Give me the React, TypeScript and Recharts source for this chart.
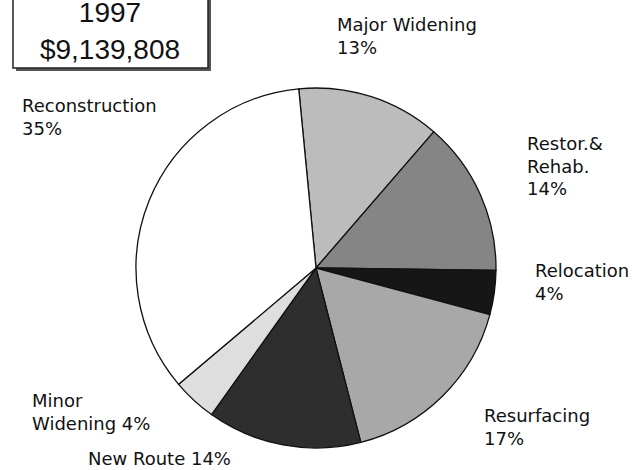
import { Cell, Pie, PieChart } from "recharts";

const categories = [
  "Major Widening",
  "Restor.& Rehab.",
  "Relocation",
  "Resurfacing",
  "New Route",
  "Minor Widening",
  "Reconstruction",
];
const shares = [13, 14, 4, 17, 14, 4, 35];
const titleYear = "1997";
const titleTotal = "$9,139,808";

const shades = ["#bcbcbc", "#858585", "#161616", "#a8a8a8", "#2e2e2e", "#dedede", "#ffffff"];
// words per line in each label (name words, then the percentage)
const labelWrap = [[2, 1], [1, 1, 1], [1, 1], [1, 1], [3], [1, 2], [1, 1]];
// label anchor (left edge, first baseline) relative to the pie centre
const labelOffsets = [
  [21, -237],
  [211, -118],
  [219, 9],
  [168, 154],
  [-228, 197],
  [-284, 139],
  [-294, -156],
];

const CX = 316;
const CY = 268;
const START = 95.5;

const data = categories.map((name, i) => ({ name, value: shares[i] }));

function renderLabel(props: any) {
  const { index } = props;
  const cx = typeof props.cx === "number" ? props.cx : CX;
  const cy = typeof props.cy === "number" ? props.cy : CY;
  const tokens = [...categories[index].split(" "), `${shares[index]}%`];
  const lines: string[] = [];
  let k = 0;
  for (const n of labelWrap[index]) {
    lines.push(tokens.slice(k, k + n).join(" "));
    k += n;
  }
  const [dx, dy] = labelOffsets[index];
  return (
    <text key={`lbl-${index}`} x={cx + dx} y={cy + dy} fill="#111" fontSize={18} fontFamily="DejaVu Sans">
      {lines.map((line, i) => (
        <tspan key={i} x={cx + dx} dy={i === 0 ? 0 : 22.5}>
          {line}
        </tspan>
      ))}
    </text>
  );
}

export default function App() {
  return (
    <div style={{ position: "absolute", left: 0, top: 0, width: 639, height: 470, background: "#fff" }}>
      <PieChart width={639} height={470} margin={{ top: 0, right: 0, bottom: 0, left: 0 }}>
        <Pie
          data={data}
          dataKey="value"
          nameKey="name"
          cx={CX}
          cy={CY}
          outerRadius={180}
          startAngle={START}
          endAngle={START - 360}
          stroke="#111"
          strokeWidth={1.3}
          label={renderLabel}
          labelLine={false}
          isAnimationActive={false}
        >
          {data.map((d, i) => (
            <Cell key={d.name} fill={shades[i]} />
          ))}
        </Pie>
      </PieChart>
      <svg width={639} height={470} style={{ position: "absolute", left: 0, top: 0, pointerEvents: "none" }}>
        <rect x={16} y={-10} width={195} height={81} fill="#555" />
        <rect x={13} y={-13} width={195} height={81} fill="#fff" stroke="#222" strokeWidth={1.5} />
        <text x={110} y={22} textAnchor="middle" fontSize={28} fontFamily="Liberation Sans" fill="#111">
          {titleYear}
        </text>
        <text x={110} y={59} textAnchor="middle" fontSize={28} fontFamily="Liberation Sans" fill="#111">
          {titleTotal}
        </text>
      </svg>
    </div>
  );
}
